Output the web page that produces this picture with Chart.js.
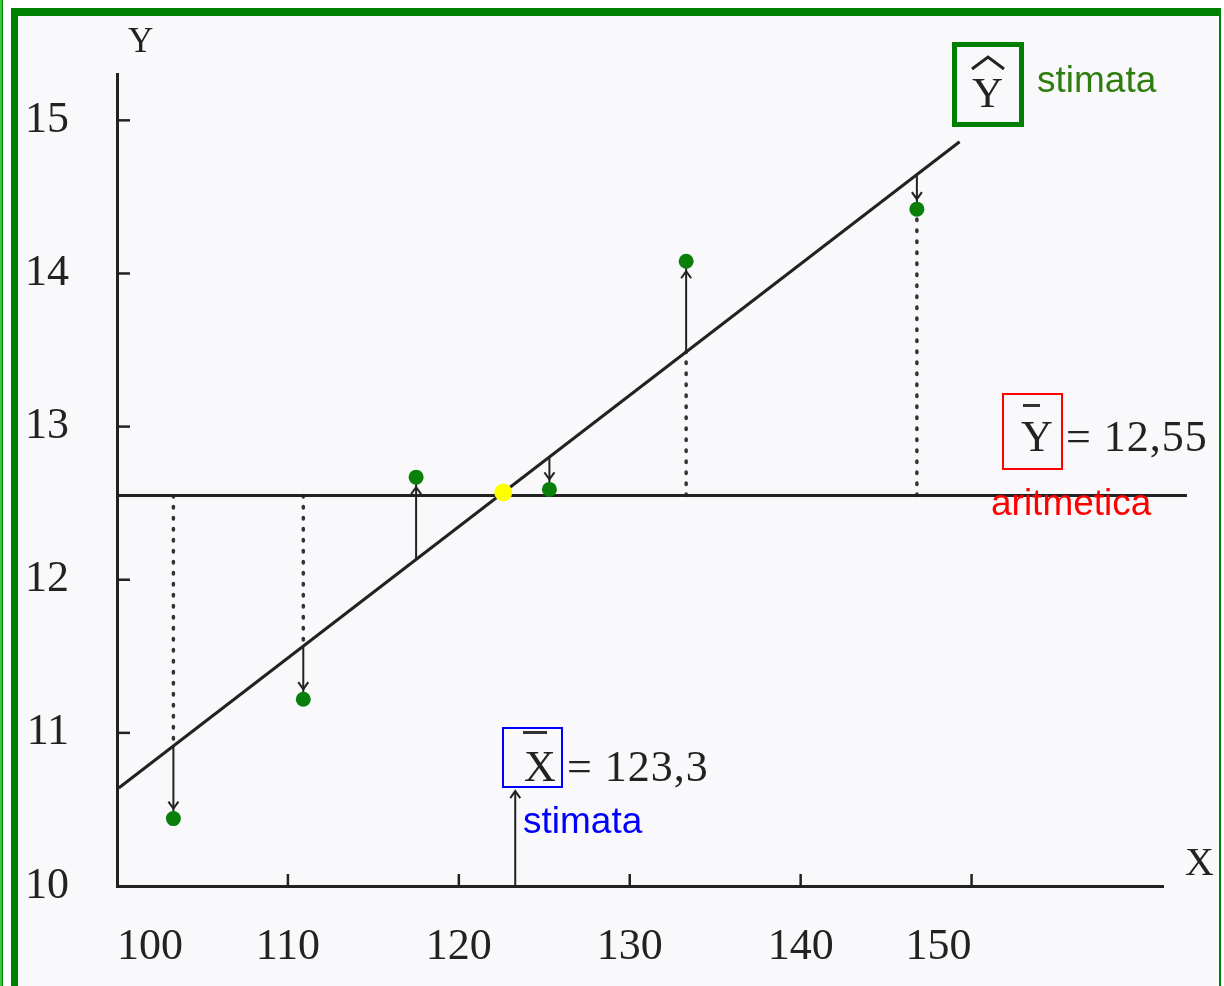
<!DOCTYPE html>
<html lang="it">
<head>
<meta charset="utf-8">
<title>Retta di regressione</title>
<script src="https://cdn.jsdelivr.net/npm/chart.js@4.4.1/dist/chart.umd.min.js"></script>
<style>
  html, body { margin: 0; padding: 0; background: #fff; }
  body { position: relative; width: 1224px; height: 986px; overflow: hidden; }
  .striscia { position: absolute; left: 0; top: 0; width: 2px; height: 986px; background: #33cc33; border-right: 1px solid #0b7a0b; }
  .cornice { position: absolute; left: 11px; top: 8px; width: 1201px; height: 1000px; border-left: 7px solid #008000; border-top: 8px solid #008000; border-right: 2px solid #008000; background: #f9f9fb; }
  #grafico { position: absolute; left: 0; top: 0; }
  .t { position: absolute; white-space: nowrap; line-height: 1; }
  .serif { font-family: "Liberation Serif", "Times New Roman", serif; font-size: 42px; color: #222; }
  .sans { font-family: "Liberation Sans", Arial, sans-serif; font-size: 37px; }
  .box { position: absolute; box-sizing: border-box; }
  .barra { position: absolute; height: 3px; background: #333; }
</style>
</head>
<body>
<div class="striscia"></div>
<div class="cornice"></div>
<canvas id="grafico" width="1224" height="986"></canvas>

<!-- nomi degli assi -->
<div class="t serif" style="left:128px; top:23px; font-size:35px;">Y</div>
<div class="t serif" style="left:1185px; top:842px; font-size:40px;">X</div>

<!-- Y cappello: retta stimata -->
<div class="box" style="left:952px; top:42px; width:72px; height:85px; border:5px solid #008000;"></div>
<svg style="position:absolute; left:969px; top:54px;" width="38" height="18">
  <polyline points="3,15 19,3 35,15" fill="none" stroke="#222" stroke-width="3"/>
</svg>
<div class="t serif" style="left:972px; top:71px; font-size:43px;">Y</div>
<div class="t sans" style="left:1037px; top:61px; color:#2e7d0e;">stimata</div>

<!-- media di Y -->
<div class="box" style="left:1002px; top:393px; width:61px; height:77px; border:2px solid #ff0000;"></div>
<div class="barra" style="left:1023px; top:404px; width:17px;"></div>
<div class="t serif" style="left:1021px; top:415px; font-size:44px;">Y</div>
<div class="t serif" style="left:1066px; top:415px; font-size:44px; letter-spacing:1px;">= 12,55</div>
<div class="t sans" style="left:991px; top:484px; color:#ff0000;">aritmetica</div>

<!-- media di X -->
<div class="box" style="left:502px; top:727px; width:61px; height:61px; border:2px solid #0000ff;"></div>
<div class="barra" style="left:523px; top:731px; width:24px;"></div>
<div class="t serif" style="left:524px; top:745px; font-size:44px;">X</div>
<div class="t serif" style="left:567px; top:745px; font-size:44px; letter-spacing:1px;">= 123,3</div>
<div class="t sans" style="left:523px; top:802px; color:#0000ff;">stimata</div>

<script>
// tacche degli assi
const xTick = [100, 110, 120, 130, 140, 150];
const yTick = [10, 11, 12, 13, 14, 15];

// osservazioni (X, Y) e valori stimati sulla retta
const xOss = [103.3, 110.9, 117.5, 125.3, 133.3, 146.8];
const yOss = [10.44, 11.22, 12.67, 12.59, 14.08, 14.42];
const yStim = [10.92, 11.57, 12.13, 12.80, 13.49, 14.64];

// medie
const mediaX = 123.3;
const mediaY = 12.55;

// estremi della retta di regressione
const rettaX = [100.1, 149.3];
const rettaY = [10.64, 14.86];

// estremi della retta orizzontale della media
const mediaYda = [100, 162.6];

// punto medio (incrocio delle due rette)
const baricentroX = [122.6];
const baricentroY = [12.57];

// freccia verticale sotto la media di X
const frecciaX = [10, 10.62];

const nero = '#222';

function segmento(xv, ya, yb, extra) {
    return Object.assign({
        data: [{ x: xv, y: ya }, { x: xv, y: yb }],
        showLine: true,
        pointRadius: 0,
        borderColor: nero,
        borderWidth: 2,
        fill: false
    }, extra);
}

function punta(ctx, px, py, dir) {
    ctx.beginPath();
    ctx.moveTo(px - 5, py - dir * 7);
    ctx.lineTo(px, py);
    ctx.lineTo(px + 5, py - dir * 7);
    ctx.stroke();
}

// tacche interne e punte delle frecce
const frecce = {
    id: 'frecce',
    afterDatasetsDraw(chart) {
        const { ctx, scales: { x, y }, chartArea } = chart;
        ctx.save();
        ctx.strokeStyle = nero;
        ctx.lineWidth = 2.5;
        xTick.slice(1).forEach(v => {
            const px = x.getPixelForValue(v);
            ctx.beginPath();
            ctx.moveTo(px, chartArea.bottom);
            ctx.lineTo(px, chartArea.bottom - 12);
            ctx.stroke();
        });
        yTick.slice(1).forEach(v => {
            const py = y.getPixelForValue(v);
            ctx.beginPath();
            ctx.moveTo(chartArea.left, py);
            ctx.lineTo(chartArea.left + 13, py);
            ctx.stroke();
        });
        ctx.lineWidth = 2;
        xOss.forEach((xv, i) => {
            const px = x.getPixelForValue(xv);
            const pOss = y.getPixelForValue(yOss[i]);
            const pStim = y.getPixelForValue(yStim[i]);
            const dir = pOss > pStim ? 1 : -1;
            punta(ctx, px, pOss - dir * 10, dir);
        });
        punta(ctx, x.getPixelForValue(mediaX), y.getPixelForValue(frecciaX[1]), -1);
        ctx.restore();
    }
};

const datasets = [];

// punti osservati
datasets.push({
    data: xOss.map((v, i) => ({ x: v, y: yOss[i] })),
    pointRadius: 7.5,
    pointBackgroundColor: '#0a7f0a',
    pointBorderColor: '#0a7f0a',
    pointBorderWidth: 0
});

// punto medio
datasets.push({
    data: baricentroX.map((v, i) => ({ x: v, y: baricentroY[i] })),
    pointRadius: 9,
    pointBackgroundColor: '#ffff00',
    pointBorderColor: '#ffff00',
    pointBorderWidth: 0
});

// retta di regressione
datasets.push({
    data: rettaX.map((v, i) => ({ x: v, y: rettaY[i] })),
    showLine: true,
    pointRadius: 0,
    borderColor: nero,
    borderWidth: 3
});

// retta della media di Y (sporge oltre l'asse X)
datasets.push({
    data: mediaYda.map(v => ({ x: v, y: mediaY })),
    showLine: true,
    pointRadius: 0,
    borderColor: nero,
    borderWidth: 3,
    clip: false
});

// tratteggi dalla media fino alla retta o al punto
xOss.forEach((xv, i) => {
    const a = yOss[i] - mediaY;
    const b = yStim[i] - mediaY;
    if (a * b < 0) return;
    const fine = Math.abs(a) < Math.abs(b) ? yOss[i] : yStim[i];
    datasets.push(segmento(xv, mediaY, fine, {
        borderWidth: 3.5,
        borderDash: [1.5, 9.5],
        borderCapStyle: 'round',
        borderColor: '#333'
    }));
});

// residui: dalla retta al punto
xOss.forEach((xv, i) => {
    datasets.push(segmento(xv, yStim[i], yOss[i]));
});

// freccia sulla media di X
datasets.push(segmento(mediaX, frecciaX[0], frecciaX[1]));

new Chart(document.getElementById('grafico').getContext('2d'), {
    type: 'scatter',
    data: { datasets: datasets },
    options: {
        responsive: false,
        animation: false,
        events: [],
        layout: { padding: { left: 0, top: 71, right: 61, bottom: 0 } },
        plugins: { legend: { display: false }, tooltip: { enabled: false } },
        scales: {
            x: {
                type: 'linear',
                min: 100,
                max: 161.2,
                afterFit: s => { s.height = 100; },
                afterBuildTicks: s => { s.ticks = xTick.map(v => ({ value: v })); },
                grid: { display: true, drawOnChartArea: false, drawTicks: false },
                border: { color: nero, width: 3 },
                ticks: {
                    font: { family: 'Liberation Serif', size: 44 },
                    color: '#222',
                    padding: 35,
                    align: 'inner',
                    maxRotation: 0
                }
            },
            y: {
                type: 'linear',
                min: 10,
                max: 15.3,
                afterFit: s => { s.width = 117; },
                afterBuildTicks: s => { s.ticks = yTick.map(v => ({ value: v })); },
                grid: { display: true, drawOnChartArea: false, drawTicks: false },
                border: { color: nero, width: 3 },
                ticks: {
                    font: { family: 'Liberation Serif', size: 44 },
                    color: '#222',
                    padding: 48
                }
            }
        }
    },
    plugins: [frecce]
});
</script>
</body>
</html>
